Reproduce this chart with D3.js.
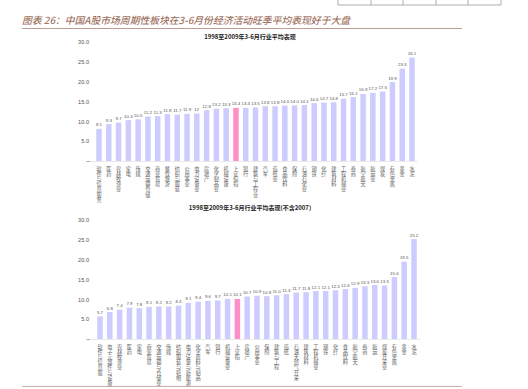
<!DOCTYPE html>
<html><head><meta charset="utf-8">
<script src="https://cdn.jsdelivr.net/npm/d3@7"></script>
<style>
html,body{margin:0;padding:0;background:#fff;}
svg{display:block;}
</style></head>
<body>
<script>
// ---------- data ----------
const pageTitle = "图表 26：中国A股市场周期性板块在3-6月份经济活动旺季平均表现好于大盘";
const title1 = "1998至2009年3-6月行业平均表现";
const title2 = "1998至2009年3-6月行业平均表现(不含2007)";
const yTicks = [5, 10, 15, 20, 25, 30];

const categories1 = ["软件与信息服务","医药","农林牧渔业","家电","传媒","交通运输仓储","商业贸易","餐饮旅游","纺织与服装","公用事业","电力设备业","房地产","化学制品业","机械设备","上证综指","银行","建筑与工程业","汽车","造纸业","食品饮料","保险","石油石化业","钢铁","化纤","建筑材料","工程机械业","券商","航空航天","航运业","煤炭","有色金属","黄金","水泥"];
const values1 = [8.1,9.3,9.7,10.3,10.5,11.2,11.3,11.8,11.7,11.9,12,12.8,13.2,13.3,13.4,13.4,13.5,13.8,13.8,13.98,14.02,14.1,14.6,14.7,14.8,15.7,16.1,16.9,17.2,17.5,19.9,23.3,26.1];
const highlight1 = "上证综指";

const categories2 = ["软件与信息服","电子元器件与设备","农林牧渔业","医药","家电","商业贸易","交通运输与仓储业","传媒","纺织服装与鞋帽","电力设备与新能源","化学原料与制品","汽车","银行","机械设备业","上证指","房地产","公用事业","保险","建筑与工程","造纸","石油天然气开采","建筑材料","工程机械业","钢铁","化纤","食品饮料","航空航天","券商","航运","煤炭开采业","有色金属","黄金","水泥"];
const values2 = [5.7,6.8,7.4,7.9,7.8,8.1,8.2,8.2,8.4,9.1,9.4,9.6,9.7,10.1,10.1,10.7,10.9,10.8,11.01,11.3,11.7,11.8,12.1,12.1,12.3,12.6,12.9,13.3,13.6,13.5,15.6,19.5,25.2];
const highlight2 = "上证指";
</script>
<script>
const W = 528, H = 389;
const svg = d3.select("body").append("svg").attr("width", W).attr("height", H);
const cjk = "'Noto Sans CJK SC','Noto Sans',sans-serif";
const latin = "'Liberation Sans',Arial,sans-serif";

// page fragments: table bottom edge at top right
const tableX = [338, 371, 403, 436, 468, 501];
svg.append("line").attr("x1", 338).attr("x2", 501).attr("y1", 5).attr("y2", 5).attr("stroke", "#9a9a9a").attr("stroke-width", 0.8);
svg.selectAll("line.tv").data(tableX).join("line").attr("class","tv")
  .attr("x1", d => d).attr("x2", d => d).attr("y1", 0).attr("y2", 5)
  .attr("stroke", "#9a9a9a").attr("stroke-width", 0.8);

// page title
svg.append("text").attr("x", 22).attr("y", 24)
  .attr("font-family", cjk).attr("font-size", 9.8).attr("font-style", "italic").attr("font-weight", 500)
  .attr("fill", "#a07464").text(pageTitle);
svg.append("line").attr("x1", 22).attr("x2", 462).attr("y1", 28.5).attr("y2", 28.5)
  .attr("stroke", "#b89486").attr("stroke-width", 0.9);
svg.append("line").attr("x1", 22).attr("x2", 462).attr("y1", 386.5).attr("y2", 386.5)
  .attr("stroke", "#c9b3aa").attr("stroke-width", 1.2);

function drawChart(opt) {
  const {cats, vals, hl, title, titleY, y0, y30, x0, x1} = opt;
  const y = d3.scaleLinear().domain([0, 30]).range([y0, y30]);
  const step = (x1 - x0) / (cats.length - 1);
  const x = d3.scaleBand().domain(cats).range([x0 - step / 2, x1 + step / 2])
    .paddingInner(0.44).paddingOuter(0.22);
  const g = svg.append("g");

  g.append("text").attr("x", 250).attr("y", titleY).attr("text-anchor", "middle")
    .attr("font-family", cjk).attr("font-size", 6).attr("font-weight", 700).attr("fill", "#222")
    .text(title);

  const axis = d3.axisLeft(y).tickValues(yTicks).tickFormat(d3.format(".1f")).tickSize(0).tickPadding(0);
  const ag = g.append("g").attr("transform", `translate(89,0)`).call(axis);
  ag.select(".domain").remove();
  ag.selectAll("text").attr("font-family", latin).attr("font-size", 5.6).attr("fill", "#555");

  g.append("line").attr("x1", 88).attr("x2", x1 + 6).attr("y1", y(0) + 0.5).attr("y2", y(0) + 0.5)
    .attr("stroke", "#dcdcdc").attr("stroke-width", 0.6);
  g.append("line").attr("x1", 86).attr("x2", 90).attr("y1", y(0) + 0.5).attr("y2", y(0) + 0.5)
    .attr("stroke", "#888").attr("stroke-width", 0.6);

  const data = cats.map((c, i) => ({c, v: vals[i]}));
  g.selectAll("rect.bar").data(data).join("rect").attr("class", "bar")
    .attr("x", d => x(d.c)).attr("width", x.bandwidth())
    .attr("y", d => y(d.v)).attr("height", d => y(0) - y(d.v))
    .attr("fill", d => d.c === hl ? "#ff8fc4" : "#ccccff");

  const fmt = v => Number.isInteger(v) ? String(v) : v.toFixed(1);
  g.selectAll("text.val").data(data).join("text").attr("class", "val")
    .attr("x", d => x(d.c) + x.bandwidth() / 2).attr("y", d => y(d.v) - 2.5)
    .attr("text-anchor", "middle").attr("font-family", latin).attr("font-size", 4.4).attr("fill", "#555")
    .text(d => fmt(d.v));

  g.selectAll("text.cat").data(data).join("text").attr("class", "cat")
    .attr("x", d => x(d.c) + x.bandwidth() / 2).attr("y", y(0) + 5)
    .attr("writing-mode", "tb").style("writing-mode", "vertical-rl")
    .attr("font-family", cjk).attr("font-size", 5.2).attr("fill", "#666")
    .text(d => d.c);
}

drawChart({cats: categories1, vals: values1, hl: highlight1, title: title1, titleY: 39, y0: 161, y30: 42, x0: 99, x1: 412});
drawChart({cats: categories2, vals: values2, hl: highlight2, title: title2, titleY: 210, y0: 339, y30: 220, x0: 100, x1: 414});
</script>
</body></html>
